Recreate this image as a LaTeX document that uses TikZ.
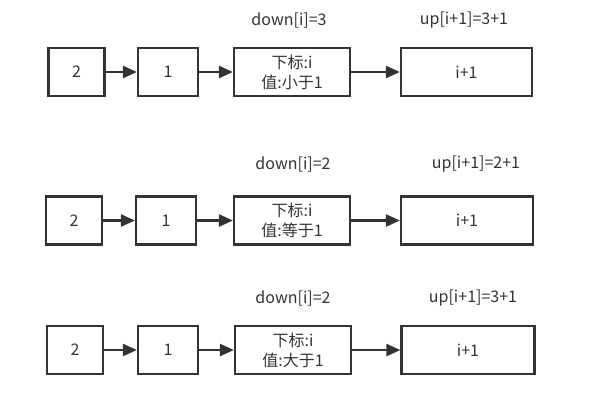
\documentclass[tikz,border=0pt]{standalone}
\usepackage{fontspec}
\setmainfont{Noto Sans CJK SC}
\usetikzlibrary{arrows.meta}
\definecolor{ink}{HTML}{333333}

\begin{document}
\begin{tikzpicture}[x=1bp, y=-1bp, font=\fontsize{16bp}{20bp}\selectfont, text=ink,
    cell/.style={draw=ink, line width=2.2bp, minimum height=48bp, inner sep=0pt, align=center},
    link/.style={draw=ink, line width=2.4bp, -{Triangle[length=14bp, width=12bp]}}]
    \useasboundingbox (0,0) rectangle (597,413);

    % Row 1
    \node[cell, minimum width=56bp]  (a1) at (76.5,72) {2};
    \node[cell, minimum width=60bp]  (b1) at (168,72) {1};
    \node[cell, minimum width=116bp] (c1) at (292,72) {下标:i\\值:小于1};
    \node[cell, minimum width=131bp] (d1) at (466.5,72) {i+1};
    \node (down1) at (289,20) {down[i]=3};
    \node (up1) at (464,20) {up[i+1]=3+1};
    \draw[link] (a1) -- (b1);
    \draw[link] (b1) -- (c1);
    \draw[link] (c1) -- (d1);

    % Row 2
    \node[cell, minimum width=56bp]  (a2) at (74,220.5) {2};
    \node[cell, minimum width=60bp]  (b2) at (166,220.5) {1};
    \node[cell, minimum width=116bp] (c2) at (292,220.5) {下标:i\\值:等于1};
    \node[cell, minimum width=132bp] (d2) at (467,220.5) {i+1};
    \node (down2) at (293,164) {down[i]=2};
    \node (up2) at (476,164) {up[i+1]=2+1};
    \draw[link] (a2) -- (b2);
    \draw[link] (b2) -- (c2);
    \draw[link] (c2) -- (d2);

    % Row 3
    \node[cell, minimum width=56bp]  (a3) at (75,350) {2};
    \node[cell, minimum width=60bp]  (b3) at (168,350) {1};
    \node[cell, minimum width=116bp] (c3) at (293,350) {下标:i\\值:大于1};
    \node[cell, minimum width=133bp] (d3) at (468,350) {i+1};
    \node (down3) at (293,298) {down[i]=2};
    \node (up3) at (473,298) {up[i+1]=3+1};
    \draw[link] (a3) -- (b3);
    \draw[link] (b3) -- (c3);
    \draw[link] (c3) -- (d3);
\end{tikzpicture}
\end{document}
